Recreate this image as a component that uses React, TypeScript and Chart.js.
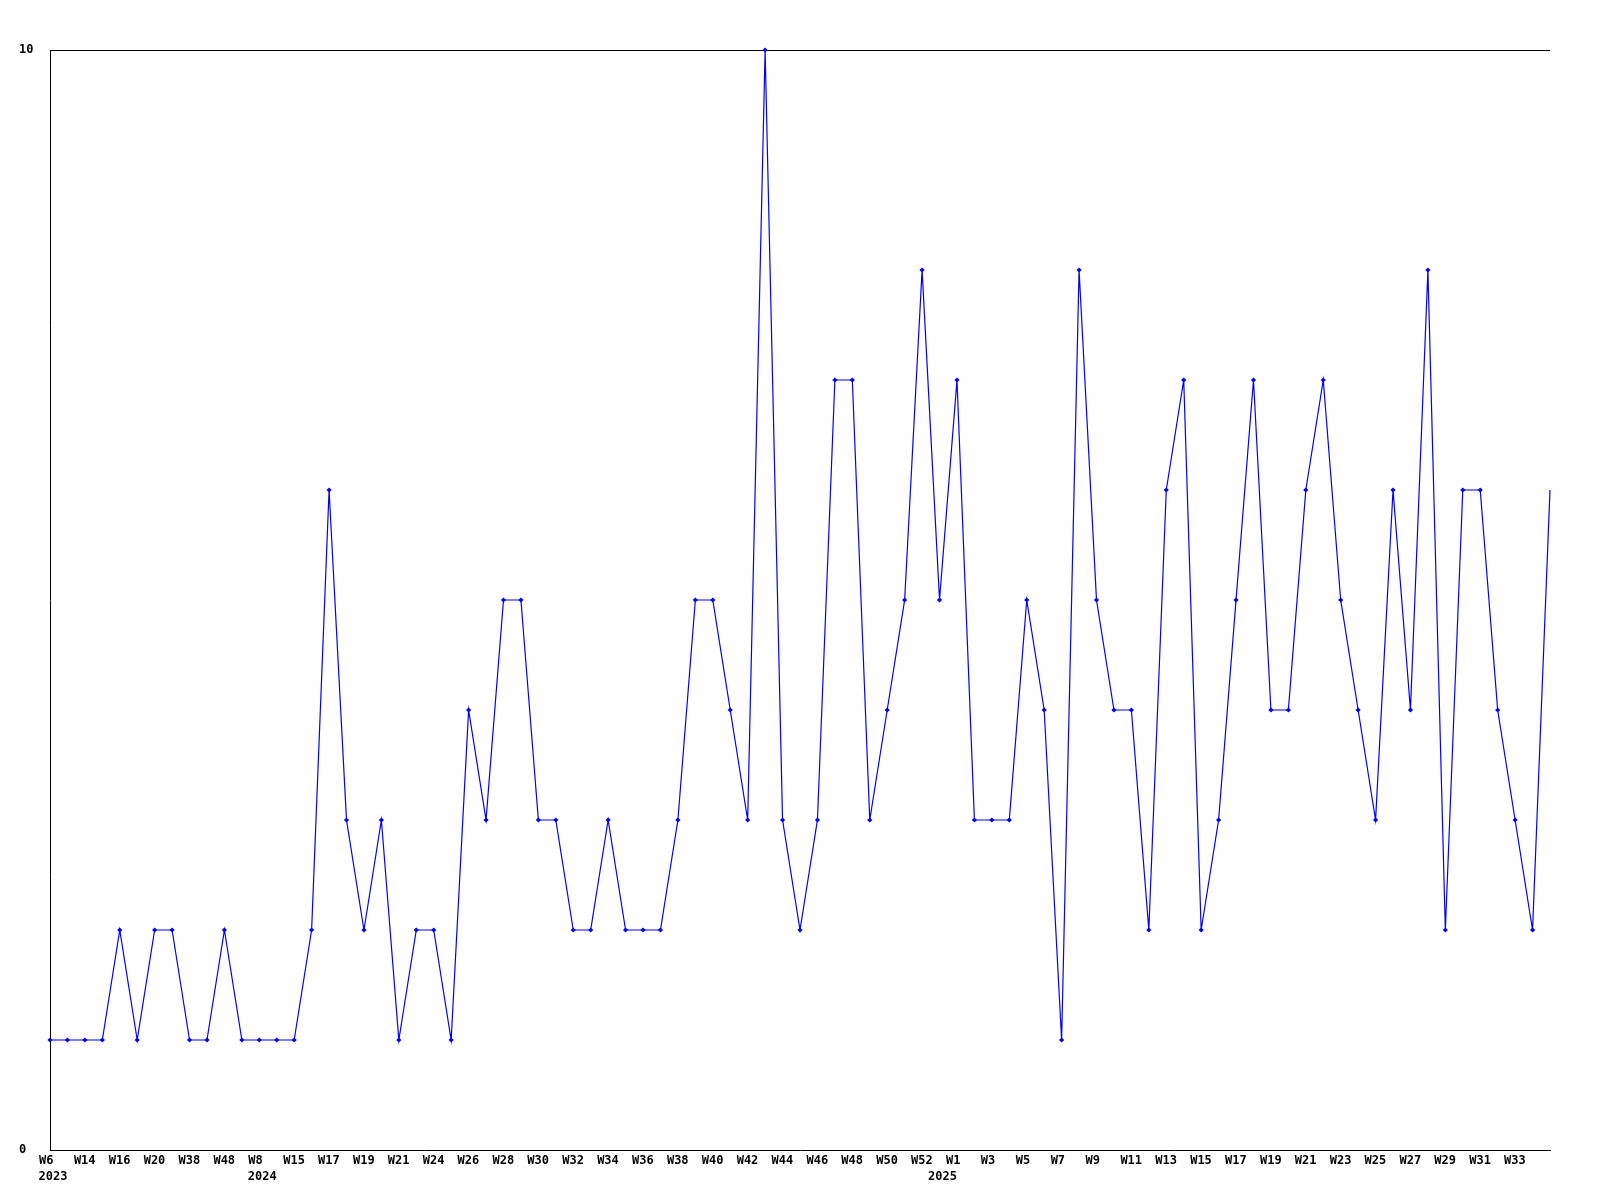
import React, { useEffect, useRef } from "react";
import { Chart, registerables } from "chart.js";

Chart.register(...registerables);

// Week categories (every other one is labelled on the axis)
const weeks: string[] = [
  // 2023
  "W6", "W10", "W14", "W15", "W16", "W18", "W20", "W33", "W38", "W45", "W48", "W50",
  // 2024
  "W8", "W11", "W15", "W16", "W17", "W18", "W19", "W20", "W21", "W22",
  "W24", "W25", "W26", "W27", "W28", "W29", "W30", "W31", "W32", "W33",
  "W34", "W35", "W36", "W37", "W38", "W39", "W40", "W41", "W42", "W43",
  "W44", "W45", "W46", "W47", "W48", "W49", "W50", "W51", "W52",
  // 2025
  "W0", "W1", "W2", "W3", "W4", "W5", "W6", "W7", "W8", "W9", "W10",
  "W11", "W12", "W13", "W14", "W15", "W16", "W17", "W18", "W19", "W20",
  "W21", "W22", "W23", "W24", "W25", "W26", "W27", "W28", "W29", "W30",
  "W31", "W32", "W33", "W34", "W35",
];

const values: number[] = [
  1, 1, 1, 1, 2, 1, 2, 2, 1, 1,
  2, 1, 1, 1, 1, 2, 6, 3, 2, 3,
  1, 2, 2, 1, 4, 3, 5, 5, 3, 3,
  2, 2, 3, 2, 2, 2, 3, 5, 5, 4,
  3, 10, 3, 2, 3, 7, 7, 3, 4, 5,
  8, 5, 7, 3, 3, 3, 5, 4, 1, 8,
  5, 4, 4, 2, 6, 7, 2, 3, 5, 7,
  4, 4, 6, 7, 5, 4, 3, 6, 4, 8,
  2, 6, 6, 4, 3, 2, 6,
];

const years: string[] = ["2023", "2024", "2025"];
const yearStartIndex: number[] = [0, 12, 51];
const yTicks: number[] = [0, 10];

const FONT_FAMILY = "'DejaVu Sans Mono', 'Liberation Mono', monospace";

export default function App() {
  const ref = useRef<HTMLCanvasElement>(null);

  useEffect(() => {
    if (!ref.current) return;
    const topBorder = {
      id: "topBorder",
      beforeDatasetsDraw(chart: any) {
        const { ctx, chartArea } = chart;
        ctx.save();
        ctx.strokeStyle = "#000000";
        ctx.lineWidth = 1;
        ctx.beginPath();
        ctx.moveTo(chartArea.left, Math.round(chartArea.top) + 0.5);
        ctx.lineTo(chartArea.right, Math.round(chartArea.top) + 0.5);
        ctx.stroke();
        ctx.restore();
      },
    };

    const chart = new Chart(ref.current, {
      type: "line",
      data: {
        labels: weeks,
        datasets: [
          {
            data: values,
            borderColor: "#0000ff",
            backgroundColor: "#0000ff",
            borderWidth: 1.2,
            tension: 0,
            pointStyle: "rectRot",
            pointRadius: (c: any) => (c.dataIndex === values.length - 1 ? 0 : 2.6),
            pointBorderWidth: 0,
            pointBackgroundColor: "#0000ff",
            clip: false as any,
            xAxisID: "x",
            yAxisID: "y",
          } as any,
        ],
      },
      plugins: [topBorder],
      options: {
        responsive: false,
        animation: false,
        events: [],
        layout: { padding: { left: 19, right: 50, top: 50, bottom: 10 } },
        plugins: {
          legend: { display: false },
          tooltip: { enabled: false },
        },
        scales: {
          x: {
            type: "category",
            position: "bottom",
            offset: false,
            weight: 0,
            grid: { display: false, drawTicks: false },
            border: { display: true, color: "#000000", width: 1 },
            ticks: {
              autoSkip: false,
              maxRotation: 0,
              minRotation: 0,
              align: "start",
              labelOffset: -11,
              padding: 3,
              color: "#000000",
              font: { family: FONT_FAMILY, size: 12, weight: "bold", lineHeight: 16 / 12 },
              callback: (_v: any, i: number) =>
                i % 2 === 0 && i < weeks.length - 1 ? weeks[i] : "",
            },
            afterFit: (s: any) => {
              s.height = 20;
            },
          } as any,
          xYear: {
            type: "category",
            position: "bottom",
            offset: false,
            weight: 1,
            grid: { display: false, drawTicks: false },
            border: { display: false },
            ticks: {
              autoSkip: false,
              maxRotation: 0,
              minRotation: 0,
              align: "center",
              labelOffset: 3,
              padding: 0,
              color: "#000000",
              font: { family: FONT_FAMILY, size: 12, weight: "bold", lineHeight: 14 / 12 },
              callback: (_v: any, i: number) => {
                const k = yearStartIndex.indexOf(i);
                return k >= 0 ? years[k] : "";
              },
            },
            afterFit: (s: any) => {
              s.height = 20;
            },
          } as any,
          y: {
            type: "linear",
            position: "left",
            min: 0,
            max: 10,
            grid: { display: false, drawTicks: false },
            border: { display: true, color: "#000000", width: 1 },
            afterBuildTicks: (s: any) => {
              s.ticks = yTicks.map((v) => ({ value: v }));
            },
            ticks: {
              crossAlign: "far",
              padding: 0,
              color: "#000000",
              font: { family: FONT_FAMILY, size: 12, weight: "bold" },
            },
            afterFit: (s: any) => {
              s.width = 31;
            },
          } as any,
        },
      },
    });

    return () => {
      chart.destroy();
    };
  }, []);

  return (
    <div
      style={{
        position: "fixed",
        left: 0,
        top: 0,
        width: 1600,
        height: 1200,
        background: "#ffffff",
      }}
    >
      <canvas ref={ref} width={1600} height={1200} style={{ display: "block" }} />
    </div>
  );
}
